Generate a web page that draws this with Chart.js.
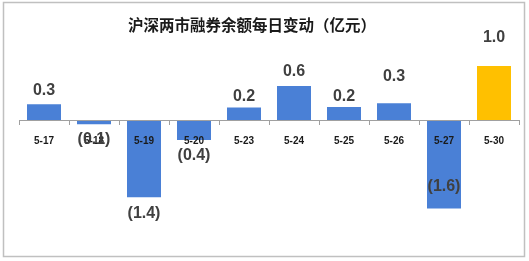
<!DOCTYPE html>
<html>
<head>
<meta charset="utf-8">
<script src="https://cdn.jsdelivr.net/npm/chart.js@4/dist/chart.umd.min.js"></script>
<style>
  html, body { margin: 0; padding: 0; background: #fff; }
  canvas { display: block; }
</style>
</head>
<body>
<canvas id="chart" width="529" height="261"></canvas>
<script>
// data (亿元)
var dates = ["5-17", "5-18", "5-19", "5-20", "5-23", "5-24", "5-25", "5-26", "5-27", "5-30"];
var changes = [0.29, -0.08, -1.43, -0.37, 0.23, 0.63, 0.24, 0.31, -1.64, 1.0];
var barColors = ["#4A80D6", "#4A80D6", "#4A80D6", "#4A80D6", "#4A80D6", "#4A80D6", "#4A80D6", "#4A80D6", "#4A80D6", "#FFC000"];
var chartTitle = '沪深两市融券余额每日变动（亿元）';

// how far each value label sits from the bar end (px), as in the original
var labelShift = [14, 15, 16, 16, 11, 14, 10, 27, -22, 28];

var frame = {
  id: 'frame',
  beforeDraw: function(chart) {
    var ctx = chart.ctx;
    ctx.save();
    ctx.fillStyle = '#fff';
    ctx.fillRect(0, 0, chart.width, chart.height);
    ctx.strokeStyle = '#c0c0c0';
    ctx.lineWidth = 1.5;
    ctx.strokeRect(3.5, 2.5, 521, 254);
    // title
    ctx.font = 'bold 15.5px "Noto Sans CJK SC", sans-serif';
    ctx.fillStyle = '#1a1a1a';
    ctx.textAlign = 'center';
    ctx.textBaseline = 'middle';
    ctx.fillText(chartTitle, 252, 25);
    ctx.restore();
  }
};

var valueLabels = {
  id: 'valueLabels',
  afterDraw: function(chart) {
    var ctx = chart.ctx;
    var meta = chart.getDatasetMeta(0);
    ctx.save();
    ctx.font = 'bold 16px Arial, "Liberation Sans", sans-serif';
    ctx.fillStyle = '#404040';
    ctx.textAlign = 'center';
    ctx.textBaseline = 'middle';
    meta.data.forEach(function(bar, i) {
      var v = changes[i];
      var txt = v < 0 ? '(' + Math.abs(v).toFixed(1) + ')' : v.toFixed(1);
      var y = v < 0 ? bar.y + labelShift[i] : bar.y - labelShift[i];
      ctx.fillText(txt, bar.x, y);
    });
    ctx.restore();
  }
};

var ctx = document.getElementById('chart').getContext('2d');
var myBarChart = new Chart(ctx, {
  type: 'bar',
  data: {
    labels: dates,
    datasets: [{
      data: changes,
      backgroundColor: barColors,
      borderWidth: 0,
      barPercentage: 0.68,
      categoryPercentage: 1
    }]
  },
  options: {
    responsive: false,
    animation: false,
    devicePixelRatio: 1,
    layout: {
      padding: { left: 19, right: 10, top: 39, bottom: 33 }
    },
    plugins: {
      legend: { display: false },
      tooltip: { enabled: false },
      title: { display: false }
    },
    scales: {
      y: {
        display: false,
        min: -2.0,
        max: 1.5
      },
      x: {
        position: { y: 0 },
        offset: true,
        grid: {
          display: true,
          drawOnChartArea: false,
          offset: true,
          tickLength: 4,
          color: '#a0a0a0',
          z: 1
        },
        border: { display: true, color: '#a0a0a0', z: 1 },
        ticks: {
          z: 1,
          color: '#1a1a1a',
          padding: 11,
          maxRotation: 0,
          autoSkip: false,
          font: { family: 'Arial, "Liberation Sans", sans-serif', size: 10, weight: 'bold' }
        }
      }
    }
  },
  plugins: [frame, valueLabels]
});
</script>
</body>
</html>
